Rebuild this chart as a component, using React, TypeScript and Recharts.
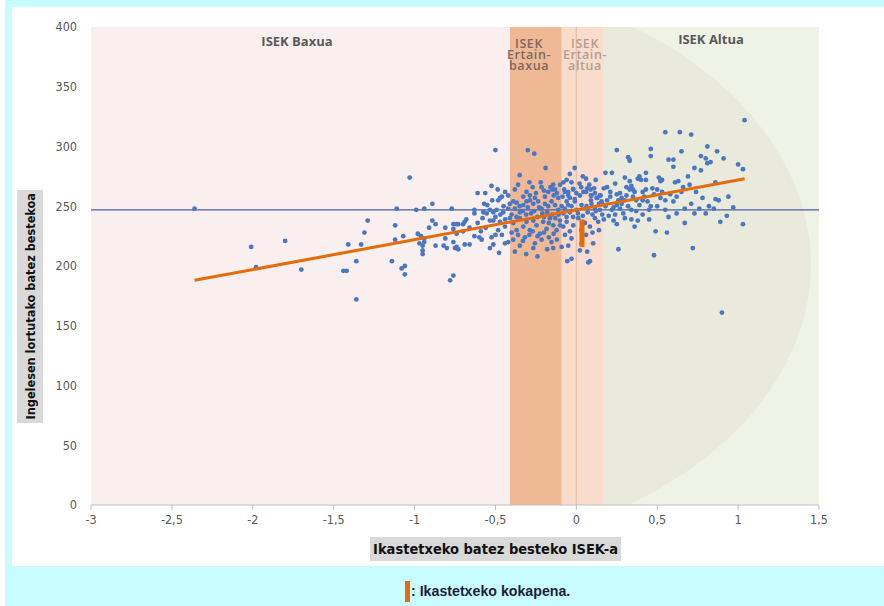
import React from 'react';
import { ScatterChart, Scatter, XAxis, YAxis, ReferenceArea, ReferenceLine } from 'recharts';

const xTicks = [-3, -2.5, -2, -1.5, -1, -0.5, 0, 0.5, 1, 1.5];
const yTicks = [0, 50, 100, 150, 200, 250, 300, 350, 400];
const bandBounds = [-3, -0.41, -0.09, 0.17, 1.5];
const meanScore = 247;
const trendX = [-2.36, 1.04];
const trendY = [188, 273];
const schoolIsek = [0.035, 0.035];
const schoolRange = [216, 239];
// background ellipse in the "Altua" band (data units)
const ellipseCenter = [-1.13, 201];
const ellipseRadius = [2.58, 243];

const lowGroup: number[][] = [
  [-2.36, 248], [-2.01, 216], [-1.80, 221], [-1.98, 199], [-1.70, 197], [-1.41, 218], [-1.33, 218],
  [-1.29, 238], [-1.31, 228], [-1.36, 204], [-1.44, 196], [-1.42, 196], [-1.36, 172], [-1.03, 274],
  [-1.11, 248], [-1.12, 234], [-1.12, 222], [-1.07, 225], [-1.14, 204], [-1.08, 198], [-1.06, 200],
  [-1.06, 193], [-0.99, 247], [-0.94, 248], [-0.89, 252], [-0.98, 227], [-0.96, 225], [-0.94, 223],
  [-0.97, 219], [-0.95, 217], [-0.95, 213], [-0.94, 220], [-0.95, 210], [-0.91, 232], [-0.89, 238],
  [-0.87, 235], [-0.87, 217], [-0.81, 232], [-0.81, 223], [-0.82, 217], [-0.80, 215], [-0.77, 248],
  [-0.76, 235], [-0.74, 235], [-0.73, 235], [-0.76, 231], [-0.74, 227], [-0.76, 220], [-0.75, 215],
  [-0.74, 216], [-0.73, 214], [-0.78, 188], [-0.76, 192], [-0.70, 235], [-0.68, 239], [-0.69, 237],
  [-0.70, 229], [-0.69, 218], [-0.66, 218], [-0.66, 232], [-0.63, 225], [-0.63, 244], [-0.63, 247],
  [-0.61, 261], [-0.61, 236], [-0.59, 229], [-0.60, 224], [-0.585, 222], [-0.575, 245], [-0.554, 244],
  [-0.534, 247], [-0.513, 245], [-0.493, 247], [-0.534, 238], [-0.513, 238], [-0.483, 255], [-0.483, 230],
  [-0.534, 215], [-0.513, 218], [-0.524, 224], [-0.478, 211], [-0.563, 261], [-0.524, 267], [-0.486, 264],
  [-0.58, 240], [-0.55, 251], [-0.50, 241], [-0.47, 243], [-0.45, 250], [-0.56, 232], [-0.50, 226],
  [-0.46, 226], [-0.44, 239], [-0.57, 252], [-0.52, 255], [-0.46, 258],
];

const midGroup: number[][] = [
  [-0.50, 297], [-0.30, 297], [-0.26, 294], [-0.19, 282], [-0.35, 276], [-0.38, 264], [-0.27, 266],
  [-0.22, 270], [-0.16, 266], [-0.10, 268], [-0.14, 259], [-0.15, 264], [-0.04, 277], [-0.01, 282],
  [-0.06, 272], [-0.03, 270], [0.02, 269], [0.06, 273], [0.12, 272], [-0.075, 264], [-0.05, 262],
  [-0.02, 264.5], [0.0, 261], [0.03, 266], [0.06, 262], [0.09, 259], [0.13, 257], [0.15, 259],
  [-0.452, 245], [-0.421, 248], [-0.411, 252], [-0.39, 254], [-0.369, 253], [-0.38, 248], [-0.349, 245],
  [-0.328, 251], [-0.308, 254], [-0.287, 255], [-0.266, 252], [-0.236, 254], [-0.215, 248], [-0.194, 252],
  [-0.174, 250], [-0.153, 254], [-0.132, 251], [-0.112, 247], [-0.091, 250], [-0.071, 248], [-0.05, 251],
  [-0.03, 250], [-0.009, 254], [0.001, 247], [0.032, 251], [0.063, 250], [0.094, 252], [0.115, 248],
  [0.146, 247], [-0.143, 268], [-0.132, 264], [-0.085, 258], [-0.071, 262], [-0.05, 259], [-0.04, 257],
  [-0.019, 264], [0.022, 259], [0.043, 262], [0.067, 265], [0.088, 264], [0.094, 259], [0.115, 261],
  [0.125, 257], [0.146, 259], [0.156, 254], [-0.287, 259], [-0.256, 257], [-0.328, 258], [-0.421, 259],
  [-0.472, 257], [-0.308, 262], [-0.215, 266], [-0.194, 258], [-0.174, 262], [-0.112, 257],
  [-0.472, 237], [-0.441, 233], [-0.411, 240], [-0.39, 236], [-0.369, 230], [-0.349, 240], [-0.328, 233],
  [-0.308, 237], [-0.287, 230], [-0.266, 238], [-0.246, 234], [-0.225, 227], [-0.205, 237], [-0.184, 231],
  [-0.163, 240], [-0.143, 234], [-0.122, 230], [-0.102, 238], [-0.081, 233], [-0.06, 237], [-0.04, 229],
  [-0.019, 234], [0.012, 240], [0.032, 230], [0.053, 236], [0.084, 233], [0.115, 240], [0.135, 237],
  [-0.441, 219], [-0.421, 220], [-0.39, 222], [-0.349, 217], [-0.318, 224], [-0.266, 215], [-0.256, 219],
  [-0.215, 222], [-0.153, 220], [-0.143, 215], [-0.091, 216], [-0.05, 217], [-0.056, 204], [-0.03, 206],
  [0.022, 213], [0.067, 212], [0.074, 203], [0.084, 204], [0.104, 219], [0.032, 219],
  [-0.40, 243], [-0.37, 241], [-0.35, 250], [-0.33, 246], [-0.31, 243], [-0.30, 249], [-0.28, 244],
  [-0.26, 246], [-0.24, 241], [-0.23, 249], [-0.21, 244], [-0.20, 241], [-0.18, 245], [-0.17, 236],
  [-0.15, 243], [-0.13, 240], [-0.11, 243], [-0.10, 234], [-0.40, 228], [-0.36, 226], [-0.33, 221],
  [-0.29, 226], [-0.27, 229], [-0.24, 225], [-0.20, 228], [-0.17, 224], [-0.14, 227], [-0.12, 222],
  [-0.38, 212], [-0.31, 210], [-0.24, 208], [-0.18, 214], [-0.44, 262], [-0.36, 268], [-0.29, 270],
  [-0.25, 261], [-0.20, 263], [-0.12, 261],
  [-0.08, 244], [-0.06, 241], [-0.04, 245], [-0.02, 241], [0.01, 244], [0.04, 242], [0.07, 245],
  [0.10, 243], [0.12, 246], [-0.07, 226], [-0.03, 223], [0.06, 226], [0.10, 228], [0.14, 230],
  [-0.08, 270], [0.04, 275], [0.08, 268], [0.11, 265], [0.14, 252], [0.09, 255], [-0.01, 256], [-0.06, 254],
];

const highGroup: number[][] = [
  [1.04, 322], [0.55, 312], [0.64, 312], [0.71, 310], [0.25, 297], [0.46, 298], [0.46, 292], [0.65, 296],
  [0.81, 300], [0.87, 296], [0.32, 291], [0.33, 289], [0.33, 288], [0.57, 289], [0.60, 289], [0.60, 283],
  [0.77, 292], [0.80, 290], [0.83, 287], [0.81, 286], [0.91, 290], [1.00, 285], [1.03, 281], [0.73, 282],
  [0.77, 280], [0.69, 275], [0.18, 278], [0.22, 278], [0.43, 278], [0.39, 275], [0.38, 273], [0.40, 272],
  [0.43, 272], [0.30, 274], [0.33, 271], [0.51, 274], [0.53, 272], [0.52, 271], [0.63, 271], [0.61, 270],
  [0.66, 266], [0.47, 265], [0.50, 264], [0.43, 264], [0.41, 262], [0.24, 269], [0.19, 266], [0.17, 265],
  [0.34, 267], [0.35, 264], [0.33, 264], [0.31, 266], [0.27, 261], [0.25, 260], [0.86, 270], [0.21, 258],
  [0.26, 255], [0.30, 255], [0.35, 258], [0.37, 255], [0.41, 255], [0.52, 257], [0.55, 255], [0.60, 254],
  [0.71, 252], [0.76, 248], [0.82, 250], [0.86, 256], [0.88, 255], [0.55, 247], [0.67, 248], [0.85, 248],
  [0.80, 244], [0.16, 252], [0.18, 250], [0.22, 247], [0.27, 248], [0.34, 247], [0.45, 247], [0.46, 250],
  [0.28, 252], [0.25, 251], [0.16, 243], [0.17, 239], [0.25, 235], [0.34, 239], [0.38, 238], [0.45, 239],
  [0.49, 229], [0.56, 228], [0.67, 236], [0.89, 237], [1.03, 235], [0.26, 214], [0.48, 209], [0.72, 215],
  [0.90, 161],
  [0.19, 255], [0.21, 262], [0.23, 249], [0.24, 243], [0.28, 257], [0.29, 244], [0.31, 259], [0.32, 250],
  [0.36, 262], [0.37, 246], [0.39, 251], [0.42, 258], [0.44, 254], [0.20, 242], [0.23, 238], [0.30, 240],
  [0.36, 233], [0.41, 243], [0.48, 260], [0.50, 250], [0.53, 262], [0.58, 260], [0.62, 258], [0.65, 262],
  [0.70, 268], [0.74, 262], [0.78, 257], [0.57, 241], [0.62, 244], [0.73, 244], [0.94, 258], [0.97, 249],
  [0.93, 242],
];

const toPts = (arr: number[][]) => arr.map(([x, y]) => ({ x, y }));
const schools = [...toPts(lowGroup), ...toPts(midGroup), ...toPts(highGroup)];
const trend = trendX.map((x, i) => ({ x, y: trendY[i] }));
const schoolMark = schoolIsek.map((x, i) => ({ x, y: schoolRange[i] }));

const fmt = (v: number) => String(v).replace('.', ',');
const tickFont = "'Liberation Sans Narrow', 'DejaVu Sans Condensed', 'Liberation Sans', sans-serif";

const Dot = (p: any) => <circle cx={p.cx} cy={p.cy} r={2.4} fill="#4a77c4" />;
const NoDot = () => <g />;

const AltuaShape = (p: any) => {
  const { x, y, width, height } = p;
  const ux = width / (bandBounds[4] - bandBounds[3]);
  const uy = height / 400;
  const cx = x + (ellipseCenter[0] - bandBounds[3]) * ux;
  const cy = y + (400 - ellipseCenter[1]) * uy;
  return (
    <g>
      <defs>
        <clipPath id="altuaClip">
          <rect x={x} y={y} width={width} height={height} />
        </clipPath>
      </defs>
      <rect x={x} y={y} width={width} height={height} fill="#eff3e5" />
      <ellipse cx={cx} cy={cy} rx={ellipseRadius[0] * ux} ry={ellipseRadius[1] * uy} fill="#e9eadc" clipPath="url(#altuaClip)" />
    </g>
  );
};

const bandLabel: React.CSSProperties = {
  position: 'absolute',
  fontFamily: "'Open Sans', sans-serif",
  fontWeight: 700,
  fontSize: 13,
  textAlign: 'center',
  lineHeight: '13px',
  whiteSpace: 'nowrap',
};

const stackLabel: React.CSSProperties = {
  ...bandLabel,
  fontSize: 12.5,
  fontWeight: 600,
  lineHeight: '11px',
  letterSpacing: 0.6,
};

export default function App() {
  return (
    <div style={{ position: 'absolute', left: 0, top: 0, width: 884, height: 606, background: '#c8fcff', overflow: 'hidden' }}>
      <div style={{ position: 'absolute', left: 0, top: 0, width: 5, height: 606, background: '#ffffff' }} />
      <div style={{ position: 'absolute', left: 12, top: 7, width: 872, height: 559, background: '#ffffff' }} />
      <div style={{ position: 'absolute', left: 0, top: 0 }}>
        <ScatterChart width={884} height={606} margin={{ top: 27, right: 65, bottom: 71, left: 0 }}>
          <XAxis
            type="number"
            dataKey="x"
            domain={[-3, 1.5]}
            ticks={xTicks}
            height={30}
            tickFormatter={fmt}
            axisLine={{ stroke: '#bfbfbf' }}
            tickLine={{ stroke: '#bfbfbf' }}
            tickSize={5}
            tickMargin={5}
            tick={{ fill: '#595959', fontSize: 12.5, fontFamily: tickFont }}
            allowDataOverflow
          />
          <YAxis
            type="number"
            dataKey="y"
            domain={[0, 400]}
            ticks={yTicks}
            width={91}
            axisLine={false}
            tickLine={false}
            tickSize={6}
            tickMargin={8}
            tick={{ fill: '#595959', fontSize: 12.5, fontFamily: tickFont }}
            allowDataOverflow
          />
          <ReferenceArea x1={bandBounds[0]} x2={bandBounds[1]} y1={0} y2={400} fill="#f9efee" fillOpacity={1} stroke="none" />
          <ReferenceArea x1={bandBounds[1]} x2={bandBounds[2]} y1={0} y2={400} fill="#f0b995" fillOpacity={1} stroke="none" />
          <ReferenceArea x1={bandBounds[2]} x2={bandBounds[3]} y1={0} y2={400} fill="#f9dccb" fillOpacity={1} stroke="none" />
          <ReferenceArea x1={bandBounds[3]} x2={bandBounds[4]} y1={0} y2={400} shape={AltuaShape} />
          <ReferenceLine x={0} stroke="#e8bea8" strokeWidth={1.2} />
          <ReferenceLine y={meanScore} stroke="#4a5fa6" strokeWidth={1.2} />
          <Scatter data={schools} shape={Dot} isAnimationActive={false} />
          <Scatter data={trend} shape={NoDot} line={{ stroke: '#e46c0a', strokeWidth: 3 }} isAnimationActive={false} />
          <Scatter data={schoolMark} shape={NoDot} line={{ stroke: '#e46c0a', strokeWidth: 5 }} isAnimationActive={false} />
        </ScatterChart>
      </div>

      <div style={{ ...bandLabel, left: 247, top: 35, width: 100, color: '#595959' }}>ISEK Baxua</div>
      <div style={{ ...stackLabel, left: 499, top: 38, width: 60, color: '#7d6760' }}>
        ISEK<br />Ertain-<br />baxua
      </div>
      <div style={{ ...stackLabel, left: 555, top: 38, width: 60, color: '#b39d93' }}>
        ISEK<br />Ertain-<br />altua
      </div>
      <div style={{ ...bandLabel, left: 661, top: 33, width: 100, color: '#595959' }}>ISEK Altua</div>

      <div
        style={{
          position: 'absolute', left: 17, top: 190, width: 26, height: 233, background: '#d9d9d9',
          display: 'flex', alignItems: 'center', justifyContent: 'center',
        }}
      >
        <div
          style={{
            writingMode: 'vertical-rl', transform: 'rotate(180deg)', whiteSpace: 'nowrap',
            fontFamily: tickFont, fontWeight: 700, fontSize: 12.6, color: '#111',
          }}
        >
          Ingelesen lortutako batez bestekoa
        </div>
      </div>

      <div
        style={{
          position: 'absolute', left: 370, top: 537, width: 251, height: 24, background: '#d9d9d9',
          display: 'flex', alignItems: 'center', justifyContent: 'center',
          fontFamily: tickFont, fontWeight: 700, fontSize: 14.5, color: '#111', whiteSpace: 'nowrap',
        }}
      >
        Ikastetxeko batez besteko ISEK-a
      </div>

      <div style={{ position: 'absolute', left: 405, top: 581, width: 5, height: 21, background: '#e46c0a' }} />
      <div
        style={{
          position: 'absolute', left: 411, top: 583, fontFamily: "'Liberation Sans', Arial, sans-serif",
          fontWeight: 700, fontSize: 14.2, color: '#1e1e3a', whiteSpace: 'nowrap',
        }}
      >
        : Ikastetxeko kokapena.
      </div>
    </div>
  );
}
